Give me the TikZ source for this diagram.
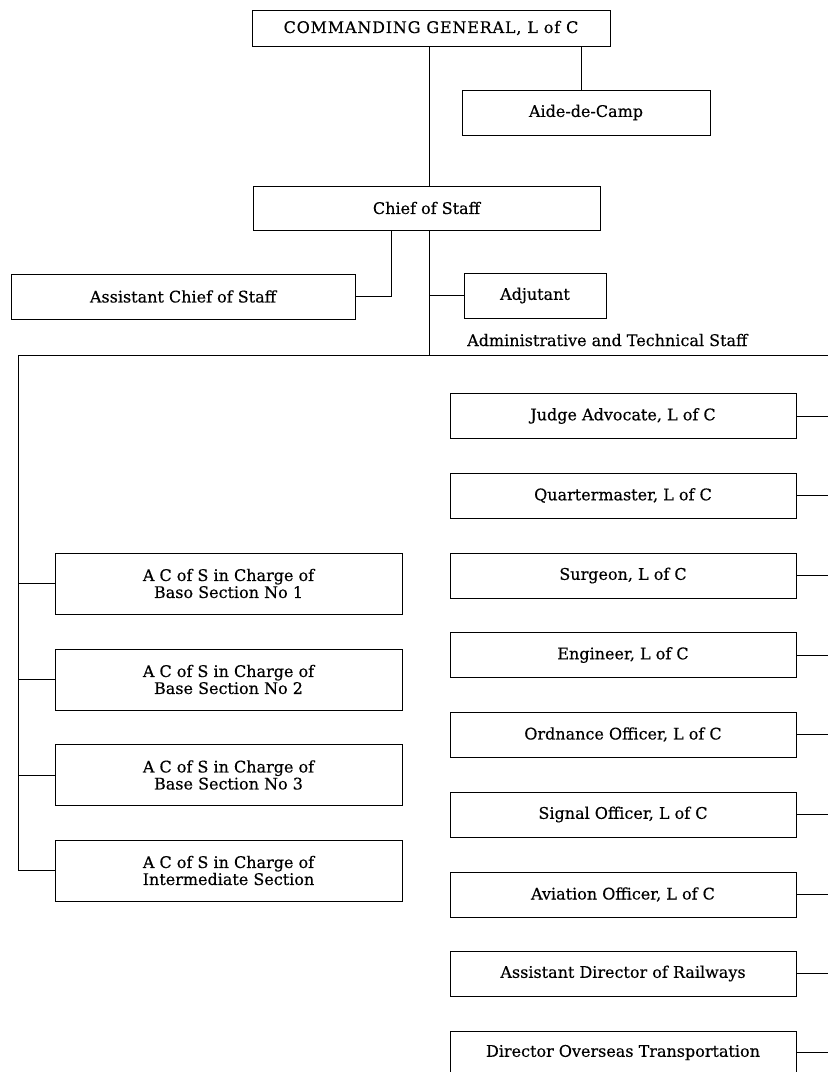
\documentclass[tikz,border=0pt]{standalone}
\usepackage{fontspec}
\setmainfont{DejaVu Serif}[UprightFeatures={FakeBold=0.4}]
\tikzset{
  box/.style={draw, line width=1pt, inner sep=0pt, align=center,
              font=\fontsize{16}{17}\selectfont},
  link/.style={line width=1pt},
  lbox/.style={box, minimum width=347pt, minimum height=61pt},
  rbox/.style={box, minimum width=346pt, minimum height=45pt}
}
\begin{document}
\begin{tikzpicture}[x=1pt,y=-1pt]
\useasboundingbox (0,0) rectangle (828,1072);
% top
\node[box, minimum width=358pt, minimum height=36pt] (cg) at (431,28) {\addfontfeature{LetterSpace=5}COMMANDING GENERAL, L of C};
\node[box, minimum width=248pt, minimum height=45pt] (aide) at (586,112.5) {Aide-de-Camp};
\node[box, minimum width=347pt, minimum height=44pt] (cos) at (426.5,208) {Chief of Staff};
\node[box, minimum width=344pt, minimum height=45pt] (acos) at (183,296.5) {Assistant Chief of Staff};
\node[box, minimum width=142pt, minimum height=45pt] (adj) at (535,295.5) {Adjutant};
\node[anchor=base west, inner sep=0pt, font=\fontsize{16}{17}\selectfont] (ats) at (467,346) {Administrative and Technical Staff};
% coordinates
\coordinate (mainx) at (429.5,0);
\coordinate (aidex) at (581,0);
\coordinate (acosx) at (391,0);
\coordinate (busL) at (18,355);
\coordinate (busM) at (429.5,355);
\coordinate (busR) at (828,355);
% left boxes
\node[lbox] (b1) at (228.5,583.5) {A C of S in Charge of\\Baso Section No 1};
\node[lbox] (b2) at (228.5,679.5) {A C of S in Charge of\\Base Section No 2};
\node[lbox] (b3) at (228.5,775) {A C of S in Charge of\\Base Section No 3};
\node[lbox] (b4) at (228.5,870.5) {A C of S in Charge of\\Intermediate Section};
% right boxes
\node[rbox] (r1) at (623,416) {Judge Advocate, L of C};
\node[rbox] (r2) at (623,495.5) {Quartermaster, L of C};
\node[rbox] (r3) at (623,575.5) {Surgeon, L of C};
\node[rbox] (r4) at (623,655) {Engineer, L of C};
\node[rbox] (r5) at (623,734.5) {Ordnance Officer, L of C};
\node[rbox] (r6) at (623,814.5) {Signal Officer, L of C};
\node[rbox] (r7) at (623,894.5) {Aviation Officer, L of C};
\node[rbox] (r8) at (623,973.5) {Assistant Director of Railways};
\node[rbox, minimum height=43pt] (r9) at (623,1052.5) {Director Overseas Transportation};
\coordinate (edge) at (828,0);
% connectors
\draw[link] (cg.south -| mainx) -- (cos.north -| mainx);
\draw[link] (cg.south -| aidex) -- (aide.north -| aidex);
\draw[link] (cos.south -| acosx) |- (acos.east);
\draw[link] (cos.south -| mainx) -- (busM);
\draw[link] (adj.west -| mainx) -- (adj.west);
\draw[link] (busL) -- (busR);
\draw[link] (busL) -- (b4.west -| busL);
\foreach \b in {b1,b2,b3,b4}{
  \draw[link] (\b.west -| busL) -- (\b.west);
}
\foreach \r in {r1,r2,r3,r4,r5,r6,r7,r8,r9}{
  \draw[link] (\r.east) -- (\r.east -| edge);
}
\end{tikzpicture}
\end{document}
